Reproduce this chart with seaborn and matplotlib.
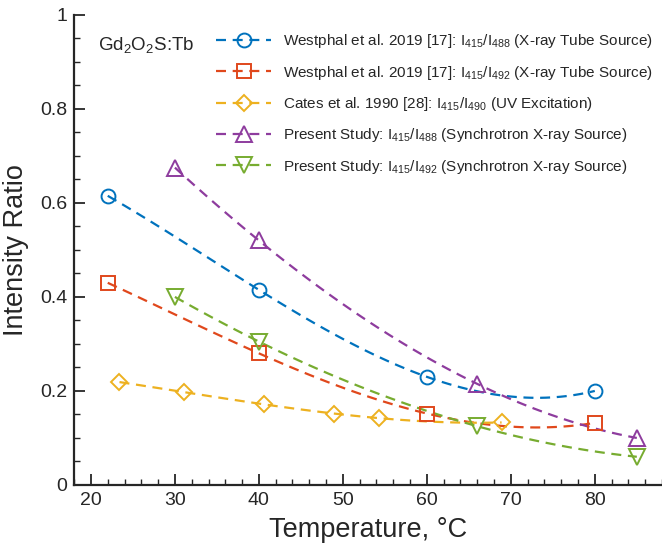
import matplotlib
matplotlib.use("Agg")
import matplotlib.pyplot as plt
from matplotlib.lines import Line2D
from matplotlib.ticker import MultipleLocator
import seaborn as sns

# data (temperature in degC, intensity ratio)
west488_t = [22, 40, 60, 80]
west488_r = [0.615, 0.415, 0.230, 0.200]

west492_t = [22, 40, 60, 80]
west492_r = [0.430, 0.280, 0.152, 0.132]

cates_t = [23.4, 31.1, 40.6, 48.9, 54.3, 68.9]
cates_r = [0.219, 0.197, 0.172, 0.152, 0.142, 0.133]

pres488_t = [30, 40, 66, 85]
pres488_r = [0.675, 0.520, 0.215, 0.100]

pres492_t = [30, 40, 66, 85]
pres492_r = [0.400, 0.305, 0.125, 0.060]

labels = [
    "Westphal et al. 2019 [17]: I$_{415}$/I$_{488}$ (X-ray Tube Source)",
    "Westphal et al. 2019 [17]: I$_{415}$/I$_{492}$ (X-ray Tube Source)",
    "Cates et al. 1990 [28]: I$_{415}$/I$_{490}$ (UV Excitation)",
    "Present Study: I$_{415}$/I$_{488}$ (Synchrotron X-ray Source)",
    "Present Study: I$_{415}$/I$_{492}$ (Synchrotron X-ray Source)",
]
colors = ["#0072BD", "#E0481C", "#EDB120", "#8E3C9E", "#77AC30"]
markers = ["o", "s", "D", "^", "v"]
msizes = [10, 10, 8.5, 11.5, 11.5]

series = [
    (west488_t, west488_r),
    (west492_t, west492_r),
    (cates_t, cates_r),
    (pres488_t, pres488_r),
    (pres492_t, pres492_r),
]

sns.set_style("ticks")
plt.rcParams["font.family"] = ["Liberation Sans", "DejaVu Sans"]
plt.rcParams["mathtext.fontset"] = "custom"
plt.rcParams["mathtext.rm"] = "Liberation Sans"
plt.rcParams["mathtext.it"] = "Liberation Sans:italic"
plt.rcParams["mathtext.default"] = "regular"

fig = plt.figure(figsize=(6.62, 5.48), dpi=100)
ax = fig.add_axes([0.112, 0.115, 0.888, 0.858])

dash = (0, (4.5, 3))
handles = []
for (t, r), lab, c, m, ms in zip(series, labels, colors, markers, msizes):
    # smooth cubic fit drawn by seaborn, dashed
    sns.regplot(x=t, y=r, order=3, ci=None, scatter=False, truncate=True,
                ax=ax, line_kws=dict(color=c, lw=1.6, ls=dash))
    ax.plot(t, r, ls="none", marker=m, ms=ms, mfc="none", mec=c, mew=1.4,
            zorder=4)
    handles.append(Line2D([], [], color=c, lw=1.6, ls=dash, marker=m,
                          ms=ms, mfc="none", mec=c, mew=1.4, label=lab))

ax.set_xlim(18, 88)
ax.set_ylim(0, 1)
ax.xaxis.set_major_locator(MultipleLocator(10))
ax.xaxis.set_minor_locator(MultipleLocator(2))
ax.yaxis.set_minor_locator(MultipleLocator(0.05))
ax.set_yticks([0, 0.2, 0.4, 0.6, 0.8, 1.0])
ax.set_yticklabels(["0", "0.2", "0.4", "0.6", "0.8", "1"])
ax.tick_params(which="major", direction="in", length=8, width=1.3,
               labelsize=14, pad=5)
ax.tick_params(which="minor", direction="in", length=4.5, width=1.0)
for side in ["left", "bottom"]:
    ax.spines[side].set_linewidth(1.6)
sns.despine(ax=ax)

ax.set_xlabel("Temperature, °C", fontsize=19.5, labelpad=6)
ax.set_ylabel("Intensity Ratio", fontsize=19.5, labelpad=8)

ax.text(0.04, 0.957, "Gd$_2$O$_2$S:Tb", transform=ax.transAxes,
        fontsize=13.5, va="top", ha="left")

ax.legend(handles=handles, loc="upper right", frameon=False, fontsize=11,
          handlelength=3.6, handletextpad=0.75, labelspacing=0.87,
          borderaxespad=0.2, bbox_to_anchor=(1.0, 0.982))

fig.savefig("out.png", dpi=100)
